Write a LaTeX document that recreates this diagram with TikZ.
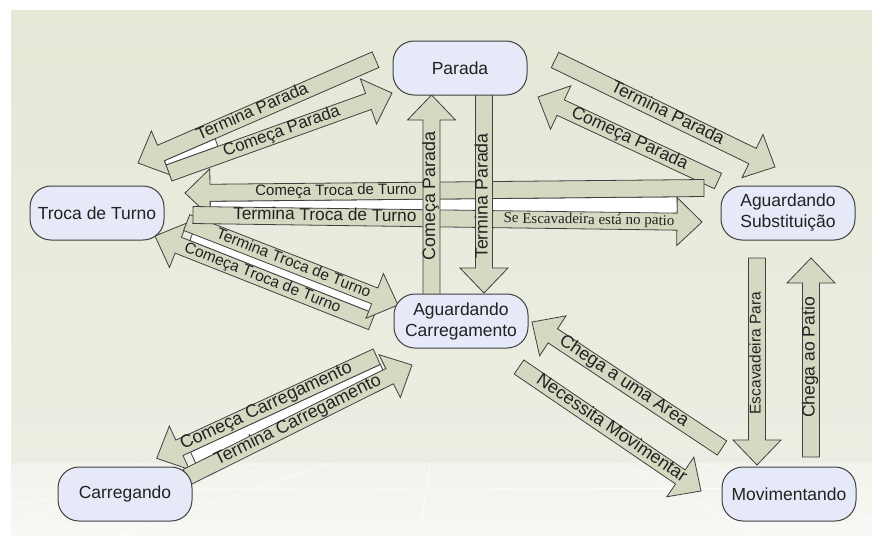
\documentclass[tikz,border=0pt]{standalone}
\usepackage{fontspec}
\setmainfont{Liberation Sans}
\newfontfamily\labelserif{Liberation Serif}
\usetikzlibrary{calc}

\pgfdeclarelayer{backdrop}
\pgfdeclarelayer{arrows}
\pgfsetlayers{backdrop,arrows,main}

\definecolor{paneltop}{HTML}{E5E8D7}
\definecolor{panelbot}{HTML}{ECEEE3}
\definecolor{floortop}{HTML}{F2F3EC}
\definecolor{floorbot}{HTML}{F8F8F4}
\definecolor{arrowfill}{HTML}{D5D9C2}
\definecolor{edge}{HTML}{404040}
\definecolor{statefill}{HTML}{E6E9F7}
\definecolor{ink}{HTML}{222222}

% block arrow geometry
\def\arrsw{8.5pt}  % half shaft width
\def\arrhw{24pt}   % half head width
\def\arrhl{25pt}   % head length

\tikzset{
  state/.style={draw=edge, line width=1pt, fill=statefill, rounded corners=21pt,
    minimum width=134pt, minimum height=54pt, align=center, text=ink,
    font=\fontsize{17.5}{21}\selectfont, inner sep=0pt},
  arrowbody/.style={draw=edge, line width=0.8pt, fill=arrowfill, line join=miter},
  arrowlabel/.style={inner sep=0pt, text=ink, text height=0.72em, text depth=0pt},
  gapband/.style={draw=edge, line width=0.8pt, fill=white},
}

% #1 tail, #2 tip, #3 label position (fraction), #4 font size,
% #5 label, #6 code drawn under the body, #7 code drawn over it
\newcommand\blockarrow[7]{%
  \path let \p1=($(#2)-(#1)$) in \pgfextra{%
    \pgfmathsetmacro\tmplen{veclen(\x1,\y1)}%
    \pgfmathsetmacro\tmpang{atan2(\y1,\x1)}%
    \pgfmathsetmacro\tmptxt{(\tmpang>91 || \tmpang<-89) ? \tmpang+180 : \tmpang}%
    \global\let\arrlen\tmplen \global\let\arrang\tmpang \global\let\arrtxt\tmptxt};
  \begin{scope}[shift={(#1)}, rotate=\arrang]
    #6
    \draw[arrowbody] (0pt,-\arrsw) -- ({\arrlen pt-\arrhl},-\arrsw)
      -- ({\arrlen pt-\arrhl},-\arrhw) -- (\arrlen pt,0pt)
      -- ({\arrlen pt-\arrhl},\arrhw) -- ({\arrlen pt-\arrhl},\arrsw)
      -- (0pt,\arrsw) -- cycle;
    \node[arrowlabel, font=\fontsize{#4}{#4}\selectfont, rotate=\arrtxt]
      at ({#3*\arrlen pt},0pt) {#5};
    #7
  \end{scope}}

\begin{document}
\begin{tikzpicture}[x=1pt,y=-1pt]
\useasboundingbox (0,0) rectangle (872,547);

% backdrop: panel and lighter floor
\begin{pgfonlayer}{backdrop}
\fill[white] (0,0) rectangle (872,547);
\shade[top color=paneltop, bottom color=panelbot] (11,10) rectangle (872,463);
\shade[top color=floortop, bottom color=floorbot] (11,463) rectangle (872,535);
\begin{scope}[white, line width=0.8pt, opacity=0.7]
  \draw (11,505) -- (260,463);
  \draw (11,530) -- (140,463);
  \draw (120,535) -- (330,463);
  \draw (620,463) -- (760,535);
  \draw (700,463) -- (872,520);
  \draw (430,463) -- (420,535);
  \draw (11,490) -- (872,488);
\end{scope}
\end{pgfonlayer}

% states
\node[state] (parada)     at (460,68)  {Parada};
\node[state] (troca)      at (97,213)  {Troca de Turno};
\node[state] (subst)      at (788,213) {Aguardando\\Substituição};
\node[state] (carreg)     at (461,321) {Aguardando\\Carregamento};
\node[state] (carregando) at (125,494) {Carregando};
\node[state] (mov)        at (789,494) {Movimentando};

% arrow ends
\coordinate (a1s)  at (375.5,59.7); \coordinate (a1e)  at (138,163);
\coordinate (a2s)  at (169,173);    \coordinate (a2e)  at (392,93);
\coordinate (a3s)  at (555,60);     \coordinate (a3e)  at (775,167);
\coordinate (a4s)  at (718,181);    \coordinate (a4e)  at (538,97);
\coordinate (a5s)  at (704,188);    \coordinate (a5e)  at (185,193);
\coordinate (a6s)  at (193,215);    \coordinate (a6e)  at (702,222);
\coordinate (a7s)  at (186.7,222.5);\coordinate (a7e)  at (398,305);
\coordinate (a8s)  at (371.7,321.7);\coordinate (a8e)  at (155,236);
\coordinate (a9s)  at (376.7,356.7);\coordinate (a9e)  at (156.7,458.3);
\coordinate (a10s) at (187,477);    \coordinate (a10e) at (412,365);
\coordinate (a11s) at (722,448);    \coordinate (a11e) at (532,322);
\coordinate (a12s) at (519,367);    \coordinate (a12e) at (701,491);
\coordinate (a13s) at (431.5,295);  \coordinate (a13e) at (431.5,95);
\coordinate (a14s) at (484,93);     \coordinate (a14e) at (484,293);
\coordinate (a15s) at (757,258);    \coordinate (a15e) at (757,465);
\coordinate (a16s) at (811,457);    \coordinate (a16e) at (811,258);

\begin{pgfonlayer}{arrows}
% Parada <-> Troca de Turno
\blockarrow{a1s}{a1e}{0.516}{17}{Termina Parada}{}{}
\blockarrow{a2s}{a2e}{0.507}{17}{Começa Parada}
  {\draw[gapband] (0pt,\arrsw) -- (55pt,\arrsw) -- (55pt,16.6pt) -- (0pt,13pt) -- cycle;}{}
% Parada <-> Aguardando Substituicao
\blockarrow{a3s}{a3e}{0.509}{17.5}{Termina Parada}{}{}
\blockarrow{a4s}{a4e}{0.494}{17.5}{Começa Parada}{}{}
% Troca de Turno <-> Aguardando Carregamento
\blockarrow{a8s}{a8e}{0.505}{15.5}{Começa Troca de Turno}
  {\draw[gapband] (0pt,-\arrsw) -- (199pt,-\arrsw) -- (199pt,-20pt) -- (0pt,-20pt) -- cycle;}{}
\blockarrow{a7s}{a7e}{0.504}{15.5}{Termina Troca de Turno}{}{}
% Carregando <-> Aguardando Carregamento
\blockarrow{a9s}{a9e}{0.5}{18}{Começa Carregamento}
  {\draw[gapband] (0pt,\arrsw) -- (209pt,\arrsw) -- (209pt,23pt) -- (0pt,23pt) -- cycle;}{}
\blockarrow{a10s}{a10e}{0.495}{18}{Termina Carregamento}{}{}
% Aguardando Carregamento <-> Movimentando
\blockarrow{a11s}{a11e}{0.52}{18}{Chega a uma Area}{}{}
\blockarrow{a12s}{a12e}{0.505}{18}{Necessita Movimentar}{}{}
% Troca de Turno <-> Aguardando Substituicao
\blockarrow{a5s}{a5e}{0.709}{15}{Começa Troca de Turno}
  {\draw[gapband] (27pt,\arrsw) -- (494pt,\arrsw) -- (494pt,28pt) -- (27pt,28pt) -- cycle;}{}
\blockarrow{a6s}{a6e}{0.259}{17.3}{Termina Troca de Turno}{}
  {\node[arrowlabel, font=\labelserif\fontsize{15}{15}\selectfont, rotate=\arrtxt]
     at ({0.778*\arrlen pt},0pt) {Se Escavadeira está no patio};}
% Parada <-> Aguardando Carregamento
\blockarrow{a13s}{a13e}{0.495}{17.8}{Começa Parada}{}{}
\blockarrow{a14s}{a14e}{0.515}{17.8}{Termina Parada}{}{}
% Aguardando Substituicao <-> Movimentando
\blockarrow{a15s}{a15e}{0.46}{15.5}{Escavadeira Para}{}{}
\blockarrow{a16s}{a16e}{0.5}{17.5}{Chega ao Patio}{}{}
\end{pgfonlayer}
\end{tikzpicture}
\end{document}
